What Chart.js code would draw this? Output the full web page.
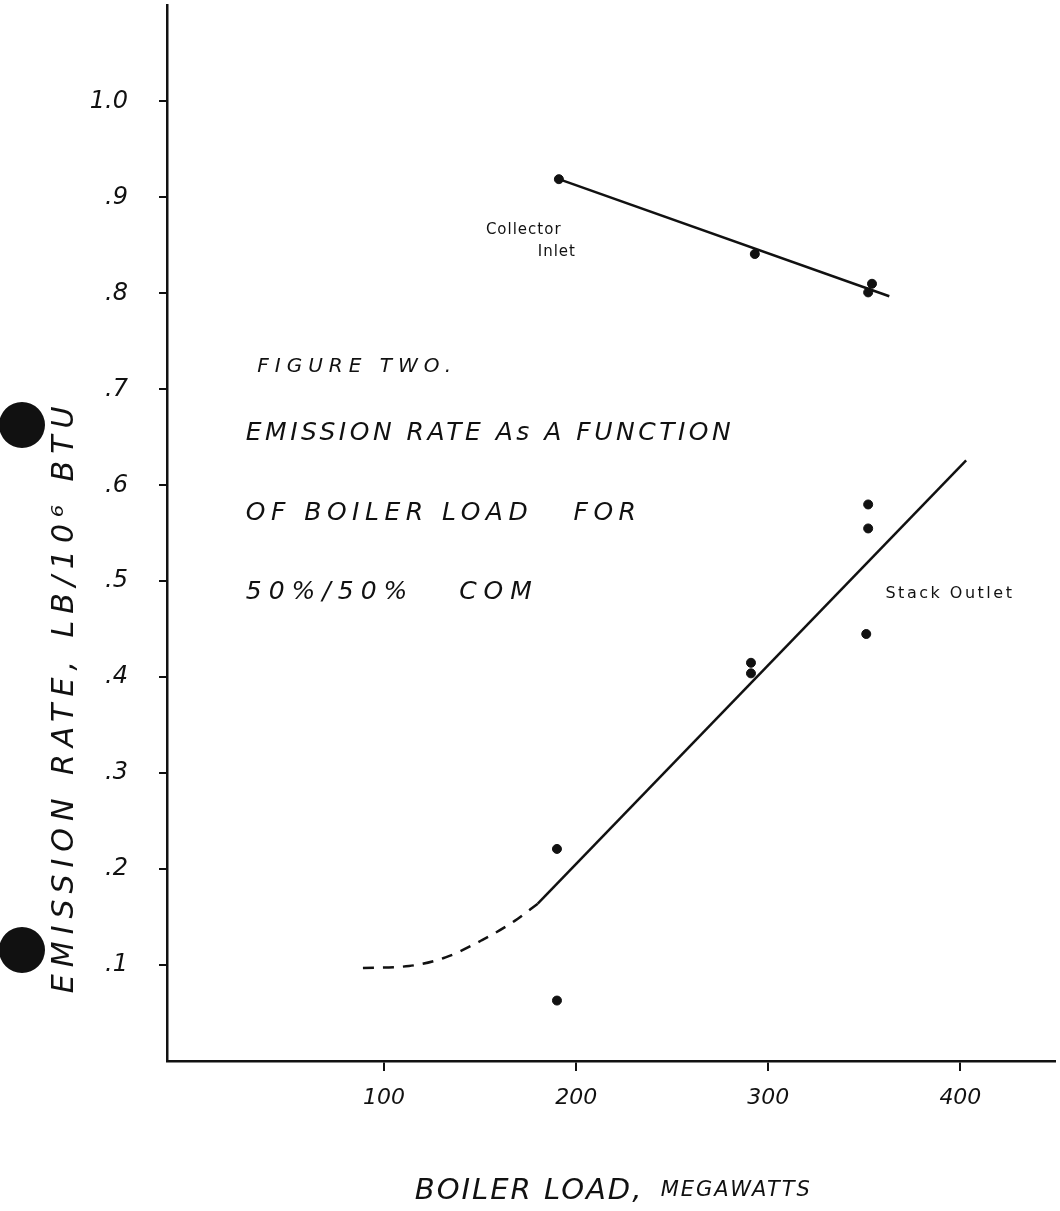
<!DOCTYPE html>
<html>
<head>
<meta charset="utf-8">
<script src="https://cdn.jsdelivr.net/npm/chart.js@4.4.0/dist/chart.umd.min.js"></script>
<style>
  html, body { margin: 0; padding: 0; background: #fff; }
  #wrap { width: 1060px; height: 1211px; }
</style>
</head>
<body>
<div id="wrap"><canvas id="myChart" width="1060" height="1211"></canvas></div>
<script>
// boiler load (MW) vs emission rate (lb / 10^6 btu)

// collector inlet
var inletLoad = [191, 293, 354, 352];
var inletRate = [0.919, 0.841, 0.810, 0.801];
var inletFitLoad = [191, 363];
var inletFitRate = [0.919, 0.797];

// stack outlet
var outletLoad = [190, 190, 291, 291, 352, 352, 351];
var outletRate = [0.221, 0.063, 0.415, 0.404, 0.580, 0.555, 0.445];
var outletFitLoad = [180, 403];
var outletFitRate = [0.164, 0.626];
// dashed part at low load
var outletDashLoad = [89, 113, 132, 151, 168, 180];
var outletDashRate = [0.097, 0.099, 0.108, 0.126, 0.146, 0.164];

var xTicks = [100, 200, 300, 400];
var yTicks = [0.1, 0.2, 0.3, 0.4, 0.5, 0.6, 0.7, 0.8, 0.9, 1.0];

var captionLines = ['FIGURE TWO.', 'EMISSION RATE As A FUNCTION', 'OF BOILER LOAD   FOR', '50%/50%   COM'];
var captionRates = [0.723, 0.654, 0.571, 0.488];

var ink = '#111';
var hand = '"DejaVu Sans", "Liberation Sans", sans-serif';

function pts(xs, ys) {
    return xs.map(function (x, i) { return { x: x, y: ys[i] }; });
}

// handwritten notes, holes of the binder punch
var notes = {
    id: 'notes',
    afterDraw: function (chart) {
        var ctx = chart.ctx;
        var xs = chart.scales.x;
        var ys = chart.scales.y;
        ctx.save();
        ctx.fillStyle = ink;
        ctx.textBaseline = 'middle';
        ctx.textAlign = 'left';

        // caption block
        var capSize = [20, 25, 25, 25];
        var capSpacing = [6, 3.5, 5.5, 7];
        var capStart = [34, 28, 28, 28];
        for (var i = 0; i < captionLines.length; i++) {
            ctx.font = 'italic ' + capSize[i] + 'px ' + hand;
            ctx.letterSpacing = capSpacing[i] + 'px';
            ctx.fillText(captionLines[i], xs.getPixelForValue(capStart[i]), ys.getPixelForValue(captionRates[i]));
        }

        // series labels
        ctx.font = '15px ' + hand;
        ctx.letterSpacing = '1px';
        ctx.fillText('Collector', xs.getPixelForValue(153), ys.getPixelForValue(0.866));
        ctx.fillText('Inlet', xs.getPixelForValue(180), ys.getPixelForValue(0.843));
        ctx.font = '16px ' + hand;
        ctx.letterSpacing = '2.5px';
        ctx.fillText('Stack Outlet', xs.getPixelForValue(361), ys.getPixelForValue(0.487));

        // x axis title
        ctx.font = 'italic 29px ' + hand;
        ctx.letterSpacing = '2px';
        ctx.fillText('BOILER LOAD,', xs.getPixelForValue(116), chart.height - 20);
        ctx.font = 'italic 21px ' + hand;
        ctx.fillText('MEGAWATTS', xs.getPixelForValue(244), chart.height - 20);

        // y axis title
        ctx.save();
        ctx.textAlign = 'center';
        ctx.translate(ys.left + 65, ys.getPixelForValue(0.38));
        ctx.rotate(-Math.PI / 2);
        ctx.font = 'italic 30px ' + hand;
        ctx.letterSpacing = '7px';
        ctx.fillText('EMISSION RATE, LB/10\u2076 BTU', 0, 0);
        ctx.restore();

        // punch holes
        ctx.beginPath();
        ctx.arc(22, 425, 23, 0, Math.PI * 2);
        ctx.arc(22, 950, 23, 0, Math.PI * 2);
        ctx.fill();
        ctx.restore();
    }
};

var ctx = document.getElementById('myChart').getContext('2d');

new Chart(ctx, {
    type: 'scatter',
    data: {
        datasets: [
            {
                data: pts(inletLoad, inletRate),
                backgroundColor: ink,
                borderColor: ink,
                pointRadius: 4.5
            },
            {
                data: pts(inletFitLoad, inletFitRate),
                showLine: true,
                borderColor: ink,
                borderWidth: 2.5,
                pointRadius: 0
            },
            {
                data: pts(outletLoad, outletRate),
                backgroundColor: ink,
                borderColor: ink,
                pointRadius: 4.5
            },
            {
                data: pts(outletFitLoad, outletFitRate),
                showLine: true,
                borderColor: ink,
                borderWidth: 2.5,
                pointRadius: 0
            },
            {
                data: pts(outletDashLoad, outletDashRate),
                showLine: true,
                borderColor: ink,
                borderWidth: 2.5,
                borderDash: [11, 9],
                cubicInterpolationMode: 'monotone',
                pointRadius: 0
            }
        ]
    },
    options: {
        responsive: false,
        animation: false,
        devicePixelRatio: 1,
        layout: { padding: 0 },
        plugins: {
            legend: { display: false },
            tooltip: { enabled: false }
        },
        scales: {
            x: {
                type: 'linear',
                min: -13,
                max: 449,
                afterFit: function (scale) {
                    scale.height = 150;
                    scale.paddingLeft = 0;
                    scale.paddingRight = 0;
                },
                afterBuildTicks: function (scale) {
                    scale.ticks = xTicks.map(function (v) { return { value: v }; });
                },
                grid: { drawOnChartArea: false, drawTicks: true, tickLength: 10, color: ink, lineWidth: 2 },
                border: { display: true, color: ink, width: 2.5 },
                ticks: {
                    color: ink,
                    padding: 14,
                    font: { family: hand, size: 22, style: 'italic' }
                }
            },
            y: {
                type: 'linear',
                min: 0,
                max: 1.1,
                afterFit: function (scale) {
                    scale.width = 167;
                    // let the axis run right up to the top edge, as on the scan
                    scale.paddingTop = 0;
                    scale.paddingBottom = 0;
                },
                afterBuildTicks: function (scale) {
                    scale.ticks = yTicks.map(function (v) { return { value: v }; });
                },
                grid: { drawOnChartArea: false, drawTicks: true, tickLength: 8, color: ink, lineWidth: 2 },
                border: { display: true, color: ink, width: 2.5 },
                ticks: {
                    color: ink,
                    padding: 31,
                    font: { family: hand, size: 24, style: 'italic' },
                    callback: function (v) {
                        return v > 0.99 ? '1.0' : '.' + Math.round(v * 10);
                    }
                }
            }
        }
    },
    plugins: [notes]
});
</script>
</body>
</html>
